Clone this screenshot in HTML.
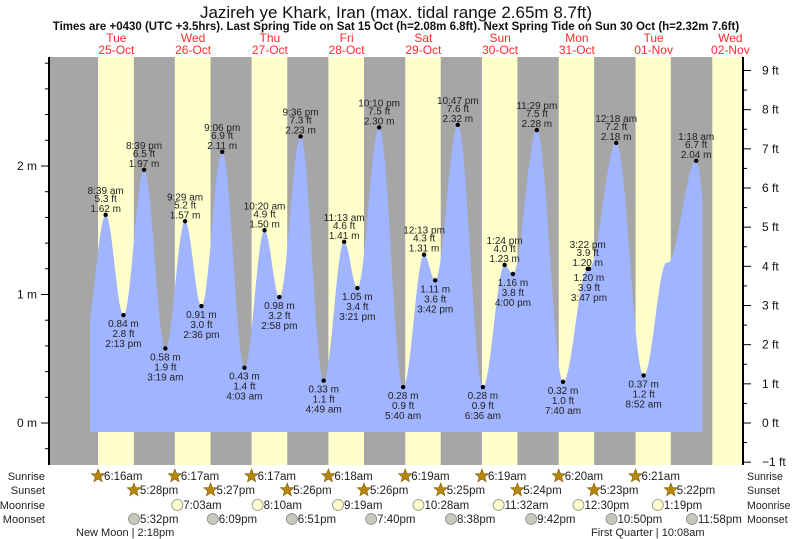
<!DOCTYPE html>
<html><head><meta charset="utf-8"><style>
html,body{margin:0;padding:0;background:#fff;}
svg{display:block;font-family:"Liberation Sans",sans-serif;}
</style></head><body>
<svg id="chart" width="793" height="539" viewBox="0 0 793 539" xmlns="http://www.w3.org/2000/svg">
<text x="396" y="18" text-anchor="middle" font-size="17" fill="#111">Jazireh ye Khark, Iran (max. tidal range 2.65m 8.7ft)</text>
<text x="396" y="30" text-anchor="middle" font-size="11.5" font-weight="bold" fill="#111">Times are +0430 (UTC +3.5hrs). Last Spring Tide on Sat 15 Oct (h=2.08m 6.8ft). Next Spring Tide on Sun 30 Oct (h=2.32m 7.6ft)</text>
<g id="bands"></g>
<g id="tide"></g>
<g id="axes"></g>
<g id="labels"></g>
<g id="almanac"></g>
</svg>
<script>
// ---- data ----
const dayNames = ["Tue","Wed","Thu","Fri","Sat","Sun","Mon","Tue","Wed"];
const dayDates = ["25-Oct","26-Oct","27-Oct","28-Oct","29-Oct","30-Oct","31-Oct","01-Nov","02-Nov"];
const sunriseH = [6.27,6.28,6.28,6.30,6.32,6.32,6.33,6.35,6.35];
const sunsetH = [17.47,17.45,17.43,17.43,17.42,17.40,17.38,17.37,17.37];
const sunriseTxt = ["6:16am","6:17am","6:17am","6:18am","6:19am","6:19am","6:20am","6:21am"];
const sunsetTxt = ["5:28pm","5:27pm","5:26pm","5:26pm","5:25pm","5:24pm","5:23pm","5:22pm"];
const moonriseDay = [1,2,3,4,5,6,7];
const moonriseH = [7.05,8.17,9.32,10.47,11.53,12.5,13.32];
const moonriseTxt = ["7:03am","8:10am","9:19am","10:28am","11:32am","12:30pm","1:19pm"];
const moonsetDay = [0,1,2,3,4,5,6,7];
const moonsetH = [17.53,18.15,18.85,19.67,20.63,21.7,22.83,23.97];
const moonsetTxt = ["5:32pm","6:09pm","6:51pm","7:40pm","8:38pm","9:42pm","10:50pm","11:58pm"];
// tide extremes: day index (0 = 25-Oct), hour, height (m)
const extDay = [0,0,0,0,1,1,1,1,2,2,2,2,3,3,3,3,4,4,4,4,5,5,5,5,6,6,6,7,7,7,7,8,8];
const extHour = [2.5,8.65,14.22,20.65,3.32,9.48,14.6,21.1,4.05,10.33,14.97,21.6,4.82,11.22,15.35,22.17,5.67,12.22,15.7,22.78,6.6,13.4,16.0,23.48,7.67,15.37,15.78,0.3,8.87,16.1,16.4,1.3,8.0];
const extHeight = [0.74,1.62,0.84,1.97,0.58,1.57,0.91,2.11,0.43,1.50,0.98,2.23,0.33,1.41,1.05,2.30,0.28,1.31,1.11,2.32,0.28,1.23,1.16,2.28,0.32,1.20,1.20,2.18,0.37,1.25,1.248,2.04,0.5];
const extFt = ["",  "5.3","2.8","6.5","1.9","5.2","3.0","6.9","1.4","4.9","3.2","7.3","1.1","4.6","3.4","7.5","0.9","4.3","3.6","7.6","0.9","4.0","3.8","7.5","1.0","3.9","3.9","7.2","1.2","","","6.7",""];
const extTime = ["","8:39 am","2:13 pm","8:39 pm","3:19 am","9:29 am","2:36 pm","9:06 pm","4:03 am","10:20 am","2:58 pm","9:36 pm","4:49 am","11:13 am","3:21 pm","10:10 pm","5:40 am","12:13 pm","3:42 pm","10:47 pm","6:36 am","1:24 pm","4:00 pm","11:29 pm","7:40 am","3:22 pm","3:47 pm","12:18 am","8:52 am","","","1:18 am",""];
const extIsHigh = [0,1,0,1,0,1,0,1,0,1,0,1,0,1,0,1,0,1,0,1,0,1,0,1,0,1,0,1,0,1,0,1,0];
const mTicks = [0,1,2];
const ftTicks = [-1,0,1,2,3,4,5,6,7,8,9];

// ---- scales ----
const X0 = 78, DAY = 76.75, PL = 49, PR = 743, PT = 57, PB = 465;
function xs(d, h){ return X0 + DAY*d + DAY/24*h; }
function ym(m){ return 423 - 128.5*m; }
const NS = "http://www.w3.org/2000/svg";
function mk(tag, parent, attrs, text){
  const e = document.createElementNS(NS, tag);
  for (const k in attrs) e.setAttribute(k, attrs[k]);
  if (text !== undefined) e.textContent = text;
  parent.appendChild(e); return e;
}
const bands = document.getElementById('bands');
const r = mk('rect', bands, {x:PL, y:PT, width:PR-PL, height:PB-PT, fill:'#a6a6a6'});


for (let d = 0; d < dayNames.length; d++){
  const x1 = Math.max(PL, xs(d, sunriseH[d])), x2 = Math.min(PR, xs(d, sunsetH[d]));
  const b = mk('rect', bands, {x:x1, y:PT, width:x2-x1, height:PB-PT, fill:'#ffffcc'});
  
  
  const cx = xs(d, 12);
  const t1 = mk('text', bands, {x:cx, y:42, 'text-anchor':'middle', 'font-size':12, fill:'#ff2a2a'}, dayNames[d]);
  
  
  const t2 = mk('text', bands, {x:cx, y:54, 'text-anchor':'middle', 'font-size':12, fill:'#ff2a2a'}, dayDates[d]);
  
  
}

// ---- tide curve ----
const tide = document.getElementById('tide');
const ex = extDay.map((d,i)=>({x:xs(d,extHour[i]), h:extHeight[i]}));
const xStart = xs(0,3.75), xEnd = xs(8,3.2), yBase = 432;
function hAt(x){
  for (let i = 0; i < ex.length-1; i++){
    if (x >= ex[i].x && x <= ex[i+1].x){
      const f = (x-ex[i].x)/(ex[i+1].x-ex[i].x);
      return ex[i].h + (ex[i+1].h-ex[i].h)*(1-Math.cos(Math.PI*f))/2;
    }
  }
  return ex[ex.length-1].h;
}
let pts = [[xStart,yBase]];
for (let x = xStart; x <= xEnd; x += 1) pts.push([x, ym(hAt(x))]);
pts.push([xEnd, ym(hAt(xEnd))]); pts.push([xEnd, yBase]);
const area = mk('path', tide, {d:'M'+pts.map(p=>p[0].toFixed(1)+','+p[1].toFixed(1)).join('L')+'Z', fill:'#a0b4ff'});



// ---- axes ----
const axes = document.getElementById('axes');
const la = mk('line', axes, {x1:PL, y1:PT, x2:PL, y2:PB, stroke:'#000', 'stroke-width':2});


const ra = mk('line', axes, {x1:PR, y1:PT, x2:PR, y2:PB, stroke:'#000', 'stroke-width':2});


for (let v = -0.2; v <= 2.85; v += 0.2){
  const y = ym(v); if (y < PT || y > PB) continue;
  const major = Math.abs(v - Math.round(v)) < 0.01;
  mk('line', axes, {x1:PL-(major?8:4), y1:y, x2:PL, y2:y, stroke:'#000', 'stroke-width':1});
}
mTicks.forEach(v=>{
  const t = mk('text', axes, {x:37, y:ym(v)+4, 'text-anchor':'end', 'font-size':12, fill:'#111'}, v+' m');
  
  
});
for (let f = -1; f <= 9.5; f += 0.5){
  const y = ym(f*0.3048); if (y < PT || y > PB) continue;
  const major = Number.isInteger(f);
  mk('line', axes, {x1:PR, y1:y, x2:PR+(major?8:4), y2:y, stroke:'#000', 'stroke-width':1});
}
ftTicks.forEach(f=>{
  const t = mk('text', axes, {x:762, y:ym(f*0.3048)+4, 'font-size':12, fill:'#111'}, (f<0?'\u2212'+(-f):f)+' ft');
  
  
});

// ---- extreme labels ----
const labels = document.getElementById('labels');
ex.forEach((e,i)=>{
  if (!extTime[i]) return;
  const y = ym(e.h);
  const dot = mk('circle', labels, {cx:e.x, cy:y, r:2.2, fill:'#000'});
  
  
  const lines = extIsHigh[i]
    ? [[extTime[i], y-21],[extFt[i]+' ft', y-13],[e.h.toFixed(2)+' m', y-3]]
    : [[e.h.toFixed(2)+' m', y+12],[extFt[i]+' ft', y+22],[extTime[i], y+32]];
  lines.forEach(l=>{
    const t = mk('text', labels, {x:e.x, y:l[1], 'text-anchor':'middle', 'font-size':10, fill:'#222'}, l[0]);
    
    
  });
});

// ---- almanac rows ----
const alm = document.getElementById('almanac');
const rowY = [480,494,509,523];
const rowNames = ["Sunrise","Sunset","Moonrise","Moonset"];
rowNames.forEach((n,i)=>{
  const a = mk('text', alm, {x:45, y:rowY[i], 'text-anchor':'end', 'font-size':11, fill:'#222'}, n);
  
  
  const b = mk('text', alm, {x:747, y:rowY[i], 'font-size':10.6, fill:'#222'}, n);
  
  
});
function star(cx, cy){
  let p = [];
  for (let k = 0; k < 10; k++){
    const rr = k%2 ? 3 : 7, a = -Math.PI/2 + k*Math.PI/5;
    p.push((cx+rr*Math.cos(a)).toFixed(1)+','+(cy+rr*Math.sin(a)).toFixed(1));
  }
  const s = mk('polygon', alm, {points:p.join(' '), fill:'#b8860b', stroke:'#7a5a00', 'stroke-width':0.6});
  
  
}
function item(x, y, txt, kind, name){
  if (kind === 'star') star(x, y-4);
  else {
    const c = mk('circle', alm, {cx:x, cy:y-4, r:5.5, fill:kind, stroke:'#888', 'stroke-width':0.8});
    
    
  }
  const t = mk('text', alm, {x:x+6, y:y, 'font-size':11.5, fill:'#222'}, txt);
  
  
}
sunriseTxt.forEach((t,d)=>item(xs(d,sunriseH[d]), rowY[0], t, 'star', 'sunrise'));
sunsetTxt.forEach((t,d)=>item(xs(d,sunsetH[d]), rowY[1], t, 'star', 'sunset'));
moonriseTxt.forEach((t,i)=>item(xs(moonriseDay[i],moonriseH[i]), rowY[2], t, '#ffffcc', 'moonrise'));
moonsetTxt.forEach((t,i)=>item(xs(moonsetDay[i],moonsetH[i]), rowY[3], t, '#c8c8b8', 'moonset'));
const nm = mk('text', alm, {x:76, y:536, 'font-size':11, fill:'#222'}, 'New Moon | 2:18pm');


const fq = mk('text', alm, {x:591, y:536, 'font-size':11, fill:'#222'}, 'First Quarter | 10:08am');


</script>
</body></html>
